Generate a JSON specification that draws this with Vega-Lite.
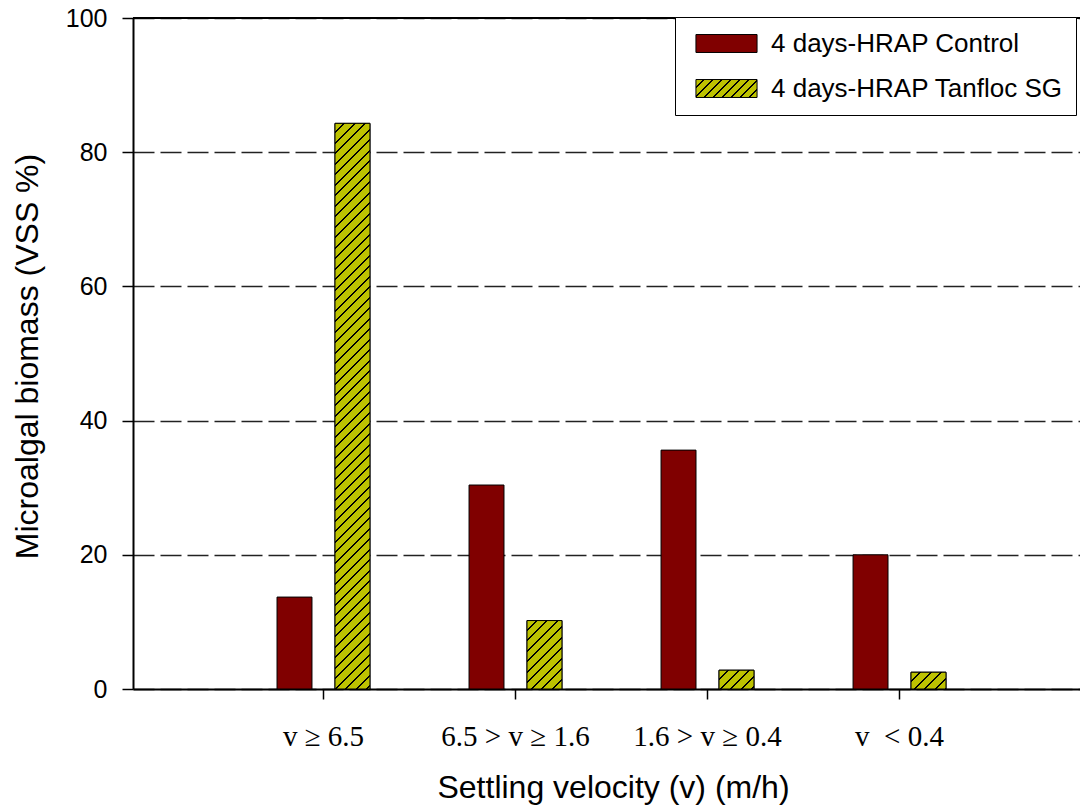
{
  "$schema": "https://vega.github.io/schema/vega-lite/v6.json",
  "width": 947,
  "height": 671,
  "autosize": {"type": "none"},
  "padding": {"left": 133, "top": 18, "right": 0, "bottom": 116},
  "background": "white",
  "config": {"view": {"stroke": null}, "font": "Liberation Sans"},
  "params": [
    {"name": "hs", "value": [
      {"offset":0,"color":"#BDC200"},{"offset":0.0137,"color":"#BDC200"},{"offset":0.0137,"color":"#000000"},{"offset":0.0167,"color":"#000000"},
      {"offset":0.0167,"color":"#BDC200"},{"offset":0.0304,"color":"#BDC200"},{"offset":0.0304,"color":"#000000"},{"offset":0.0333,"color":"#000000"},
      {"offset":0.0333,"color":"#BDC200"},{"offset":0.047,"color":"#BDC200"},{"offset":0.047,"color":"#000000"},{"offset":0.05,"color":"#000000"},
      {"offset":0.05,"color":"#BDC200"},{"offset":0.0637,"color":"#BDC200"},{"offset":0.0637,"color":"#000000"},{"offset":0.0667,"color":"#000000"},
      {"offset":0.0667,"color":"#BDC200"},{"offset":0.0804,"color":"#BDC200"},{"offset":0.0804,"color":"#000000"},{"offset":0.0833,"color":"#000000"},
      {"offset":0.0833,"color":"#BDC200"},{"offset":0.097,"color":"#BDC200"},{"offset":0.097,"color":"#000000"},{"offset":0.1,"color":"#000000"},
      {"offset":0.1,"color":"#BDC200"},{"offset":0.1137,"color":"#BDC200"},{"offset":0.1137,"color":"#000000"},{"offset":0.1167,"color":"#000000"},
      {"offset":0.1167,"color":"#BDC200"},{"offset":0.1304,"color":"#BDC200"},{"offset":0.1304,"color":"#000000"},{"offset":0.1333,"color":"#000000"},
      {"offset":0.1333,"color":"#BDC200"},{"offset":0.147,"color":"#BDC200"},{"offset":0.147,"color":"#000000"},{"offset":0.15,"color":"#000000"},
      {"offset":0.15,"color":"#BDC200"},{"offset":0.1637,"color":"#BDC200"},{"offset":0.1637,"color":"#000000"},{"offset":0.1667,"color":"#000000"},
      {"offset":0.1667,"color":"#BDC200"},{"offset":0.1804,"color":"#BDC200"},{"offset":0.1804,"color":"#000000"},{"offset":0.1833,"color":"#000000"},
      {"offset":0.1833,"color":"#BDC200"},{"offset":0.197,"color":"#BDC200"},{"offset":0.197,"color":"#000000"},{"offset":0.2,"color":"#000000"},
      {"offset":0.2,"color":"#BDC200"},{"offset":0.2137,"color":"#BDC200"},{"offset":0.2137,"color":"#000000"},{"offset":0.2167,"color":"#000000"},
      {"offset":0.2167,"color":"#BDC200"},{"offset":0.2304,"color":"#BDC200"},{"offset":0.2304,"color":"#000000"},{"offset":0.2333,"color":"#000000"},
      {"offset":0.2333,"color":"#BDC200"},{"offset":0.247,"color":"#BDC200"},{"offset":0.247,"color":"#000000"},{"offset":0.25,"color":"#000000"},
      {"offset":0.25,"color":"#BDC200"},{"offset":0.2637,"color":"#BDC200"},{"offset":0.2637,"color":"#000000"},{"offset":0.2667,"color":"#000000"},
      {"offset":0.2667,"color":"#BDC200"},{"offset":0.2804,"color":"#BDC200"},{"offset":0.2804,"color":"#000000"},{"offset":0.2833,"color":"#000000"},
      {"offset":0.2833,"color":"#BDC200"},{"offset":0.297,"color":"#BDC200"},{"offset":0.297,"color":"#000000"},{"offset":0.3,"color":"#000000"},
      {"offset":0.3,"color":"#BDC200"},{"offset":0.3137,"color":"#BDC200"},{"offset":0.3137,"color":"#000000"},{"offset":0.3167,"color":"#000000"},
      {"offset":0.3167,"color":"#BDC200"},{"offset":0.3304,"color":"#BDC200"},{"offset":0.3304,"color":"#000000"},{"offset":0.3333,"color":"#000000"},
      {"offset":0.3333,"color":"#BDC200"},{"offset":0.347,"color":"#BDC200"},{"offset":0.347,"color":"#000000"},{"offset":0.35,"color":"#000000"},
      {"offset":0.35,"color":"#BDC200"},{"offset":0.3637,"color":"#BDC200"},{"offset":0.3637,"color":"#000000"},{"offset":0.3667,"color":"#000000"},
      {"offset":0.3667,"color":"#BDC200"},{"offset":0.3804,"color":"#BDC200"},{"offset":0.3804,"color":"#000000"},{"offset":0.3833,"color":"#000000"},
      {"offset":0.3833,"color":"#BDC200"},{"offset":0.397,"color":"#BDC200"},{"offset":0.397,"color":"#000000"},{"offset":0.4,"color":"#000000"},
      {"offset":0.4,"color":"#BDC200"},{"offset":0.4137,"color":"#BDC200"},{"offset":0.4137,"color":"#000000"},{"offset":0.4167,"color":"#000000"},
      {"offset":0.4167,"color":"#BDC200"},{"offset":0.4304,"color":"#BDC200"},{"offset":0.4304,"color":"#000000"},{"offset":0.4333,"color":"#000000"},
      {"offset":0.4333,"color":"#BDC200"},{"offset":0.447,"color":"#BDC200"},{"offset":0.447,"color":"#000000"},{"offset":0.45,"color":"#000000"},
      {"offset":0.45,"color":"#BDC200"},{"offset":0.4637,"color":"#BDC200"},{"offset":0.4637,"color":"#000000"},{"offset":0.4667,"color":"#000000"},
      {"offset":0.4667,"color":"#BDC200"},{"offset":0.4804,"color":"#BDC200"},{"offset":0.4804,"color":"#000000"},{"offset":0.4833,"color":"#000000"},
      {"offset":0.4833,"color":"#BDC200"},{"offset":0.497,"color":"#BDC200"},{"offset":0.497,"color":"#000000"},{"offset":0.5,"color":"#000000"},
      {"offset":0.5,"color":"#BDC200"},{"offset":0.5137,"color":"#BDC200"},{"offset":0.5137,"color":"#000000"},{"offset":0.5167,"color":"#000000"},
      {"offset":0.5167,"color":"#BDC200"},{"offset":0.5304,"color":"#BDC200"},{"offset":0.5304,"color":"#000000"},{"offset":0.5333,"color":"#000000"},
      {"offset":0.5333,"color":"#BDC200"},{"offset":0.547,"color":"#BDC200"},{"offset":0.547,"color":"#000000"},{"offset":0.55,"color":"#000000"},
      {"offset":0.55,"color":"#BDC200"},{"offset":0.5637,"color":"#BDC200"},{"offset":0.5637,"color":"#000000"},{"offset":0.5667,"color":"#000000"},
      {"offset":0.5667,"color":"#BDC200"},{"offset":0.5804,"color":"#BDC200"},{"offset":0.5804,"color":"#000000"},{"offset":0.5833,"color":"#000000"},
      {"offset":0.5833,"color":"#BDC200"},{"offset":0.597,"color":"#BDC200"},{"offset":0.597,"color":"#000000"},{"offset":0.6,"color":"#000000"},
      {"offset":0.6,"color":"#BDC200"},{"offset":0.6137,"color":"#BDC200"},{"offset":0.6137,"color":"#000000"},{"offset":0.6167,"color":"#000000"},
      {"offset":0.6167,"color":"#BDC200"},{"offset":0.6304,"color":"#BDC200"},{"offset":0.6304,"color":"#000000"},{"offset":0.6333,"color":"#000000"},
      {"offset":0.6333,"color":"#BDC200"},{"offset":0.647,"color":"#BDC200"},{"offset":0.647,"color":"#000000"},{"offset":0.65,"color":"#000000"},
      {"offset":0.65,"color":"#BDC200"},{"offset":0.6637,"color":"#BDC200"},{"offset":0.6637,"color":"#000000"},{"offset":0.6667,"color":"#000000"},
      {"offset":0.6667,"color":"#BDC200"},{"offset":0.6804,"color":"#BDC200"},{"offset":0.6804,"color":"#000000"},{"offset":0.6833,"color":"#000000"},
      {"offset":0.6833,"color":"#BDC200"},{"offset":0.697,"color":"#BDC200"},{"offset":0.697,"color":"#000000"},{"offset":0.7,"color":"#000000"},
      {"offset":0.7,"color":"#BDC200"},{"offset":0.7137,"color":"#BDC200"},{"offset":0.7137,"color":"#000000"},{"offset":0.7167,"color":"#000000"},
      {"offset":0.7167,"color":"#BDC200"},{"offset":0.7304,"color":"#BDC200"},{"offset":0.7304,"color":"#000000"},{"offset":0.7333,"color":"#000000"},
      {"offset":0.7333,"color":"#BDC200"},{"offset":0.747,"color":"#BDC200"},{"offset":0.747,"color":"#000000"},{"offset":0.75,"color":"#000000"},
      {"offset":0.75,"color":"#BDC200"},{"offset":0.7637,"color":"#BDC200"},{"offset":0.7637,"color":"#000000"},{"offset":0.7667,"color":"#000000"},
      {"offset":0.7667,"color":"#BDC200"},{"offset":0.7804,"color":"#BDC200"},{"offset":0.7804,"color":"#000000"},{"offset":0.7833,"color":"#000000"},
      {"offset":0.7833,"color":"#BDC200"},{"offset":0.797,"color":"#BDC200"},{"offset":0.797,"color":"#000000"},{"offset":0.8,"color":"#000000"},
      {"offset":0.8,"color":"#BDC200"},{"offset":0.8137,"color":"#BDC200"},{"offset":0.8137,"color":"#000000"},{"offset":0.8167,"color":"#000000"},
      {"offset":0.8167,"color":"#BDC200"},{"offset":0.8304,"color":"#BDC200"},{"offset":0.8304,"color":"#000000"},{"offset":0.8333,"color":"#000000"},
      {"offset":0.8333,"color":"#BDC200"},{"offset":0.847,"color":"#BDC200"},{"offset":0.847,"color":"#000000"},{"offset":0.85,"color":"#000000"},
      {"offset":0.85,"color":"#BDC200"},{"offset":0.8637,"color":"#BDC200"},{"offset":0.8637,"color":"#000000"},{"offset":0.8667,"color":"#000000"},
      {"offset":0.8667,"color":"#BDC200"},{"offset":0.8804,"color":"#BDC200"},{"offset":0.8804,"color":"#000000"},{"offset":0.8833,"color":"#000000"},
      {"offset":0.8833,"color":"#BDC200"},{"offset":0.897,"color":"#BDC200"},{"offset":0.897,"color":"#000000"},{"offset":0.9,"color":"#000000"},
      {"offset":0.9,"color":"#BDC200"},{"offset":0.9137,"color":"#BDC200"},{"offset":0.9137,"color":"#000000"},{"offset":0.9167,"color":"#000000"},
      {"offset":0.9167,"color":"#BDC200"},{"offset":0.9304,"color":"#BDC200"},{"offset":0.9304,"color":"#000000"},{"offset":0.9333,"color":"#000000"},
      {"offset":0.9333,"color":"#BDC200"},{"offset":0.947,"color":"#BDC200"},{"offset":0.947,"color":"#000000"},{"offset":0.95,"color":"#000000"},
      {"offset":0.95,"color":"#BDC200"},{"offset":0.9637,"color":"#BDC200"},{"offset":0.9637,"color":"#000000"},{"offset":0.9667,"color":"#000000"},
      {"offset":0.9667,"color":"#BDC200"},{"offset":0.9804,"color":"#BDC200"},{"offset":0.9804,"color":"#000000"},{"offset":0.9833,"color":"#000000"},
      {"offset":0.9833,"color":"#BDC200"},{"offset":0.997,"color":"#BDC200"},{"offset":0.997,"color":"#000000"},{"offset":1,"color":"#000000"}
    ]}
  ],
  "data": {"values": [
    {"velocity": "v ≥ 6.5", "series": "4 days-HRAP Control", "value": 13.7},
    {"velocity": "v ≥ 6.5", "series": "4 days-HRAP Tanfloc SG", "value": 84.3},
    {"velocity": "6.5 > v ≥ 1.6", "series": "4 days-HRAP Control", "value": 30.4},
    {"velocity": "6.5 > v ≥ 1.6", "series": "4 days-HRAP Tanfloc SG", "value": 10.2},
    {"velocity": "1.6 > v ≥ 0.4", "series": "4 days-HRAP Control", "value": 35.6},
    {"velocity": "1.6 > v ≥ 0.4", "series": "4 days-HRAP Tanfloc SG", "value": 2.8},
    {"velocity": "v\u00a0 < 0.4", "series": "4 days-HRAP Control", "value": 20.0},
    {"velocity": "v\u00a0 < 0.4", "series": "4 days-HRAP Tanfloc SG", "value": 2.5}
  ]},
  "layer": [
    {
      "mark": {"type": "bar", "stroke": "black", "strokeWidth": 1},
      "encoding": {
        "x": {
          "field": "velocity", "type": "nominal",
          "scale": {"domain": ["v ≥ 6.5", "6.5 > v ≥ 1.6", "1.6 > v ≥ 0.4", "v\u00a0 < 0.4"], "paddingInner": 0.516, "paddingOuter": 0.724, "align": 0.518},
          "title": "Settling velocity (v) (m/h)",
          "axis": {
            "domainColor": "black", "domainWidth": 2,
            "tickColor": "black", "tickWidth": 1.5, "tickSize": 10,
            "labelFont": "Liberation Serif", "labelFontSize": 29, "labelColor": "black",
            "labelAngle": 0, "labelBaseline": "alphabetic", "labelPadding": 46, "labelLimit": 400,
            "titleFont": "Liberation Sans", "titleFontSize": 32, "titleFontWeight": "normal", "titleColor": "black",
            "titleX": 480, "titleY": 108, "titleBaseline": "alphabetic", "titleAlign": "center",
            "grid": false
          }
        },
        "xOffset": {
          "field": "series", "type": "nominal",
          "scale": {"domain": ["4 days-HRAP Control", "4 days-HRAP Tanfloc SG"], "paddingInner": 0.397, "paddingOuter": 0}
        },
        "y": {
          "field": "value", "type": "quantitative",
          "scale": {"domain": [0, 100], "nice": false},
          "title": "Microalgal biomass (VSS %)",
          "axis": {
            "values": [0, 20, 40, 60, 80, 100],
            "domainColor": "black", "domainWidth": 2,
            "tickColor": "black", "tickWidth": 1.5, "tickSize": 11,
            "labelFont": "Liberation Sans", "labelFontSize": 25, "labelColor": "black", "labelPadding": 15,
            "grid": true, "gridColor": "#222222", "gridWidth": 1.5, "gridDash": [21, 6],
            "titleFont": "Liberation Sans", "titleFontSize": 32, "titleFontWeight": "normal", "titleColor": "black",
            "titleX": -96, "titleY": 338, "titleBaseline": "alphabetic", "titleAlign": "center"
          }
        },
        "fill": {
          "field": "series", "type": "nominal",
          "scale": {
            "domain": ["4 days-HRAP Control", "4 days-HRAP Tanfloc SG"],
            "range": ["#800000", {"expr": "{gradient: 'linear', x1: 0, y1: 0, x2: 8.143, y2: 2.403, stops: hs}"}]
          },
          "legend": {
            "orient": "none", "legendX": 542, "legendY": -1, "title": null, "direction": "vertical",
            "symbolType": "M-2.35,-0.69H2.35V0.69H-2.35Z", "symbolSize": 676,
            "symbolStrokeColor": "black", "symbolStrokeWidth": 1, "symbolOffset": 25,
            "labelOffset": 31, "labelFont": "Liberation Sans", "labelFontSize": 26, "labelColor": "black", "labelLimit": 400,
            "padding": 13, "rowPadding": 18,
            "strokeColor": "black", "fillColor": "white", "cornerRadius": 0
          }
        }
      }
    },
    {
      "transform": [{"filter": "datum.series === '4 days-HRAP Tanfloc SG'"}],
      "mark": {
        "type": "bar", "stroke": "black", "strokeWidth": 1,
        "fill": {"expr": "{gradient: 'linear', x1: 0, y1: 0, x2: 35 * 630 / (1225 + pow(6.71 * datum.value, 2)), y2: 6.71 * datum.value * 630 / (1225 + pow(6.71 * datum.value, 2)), stops: hs}"}
      },
      "encoding": {
        "x": {"field": "velocity", "type": "nominal"},
        "xOffset": {"field": "series", "type": "nominal"},
        "y": {"field": "value", "type": "quantitative"}
      }
    },
    {
      "mark": {"type": "rule", "stroke": "black", "strokeWidth": 1.5},
      "encoding": {"y": {"datum": 100}}
    }
  ]
}
